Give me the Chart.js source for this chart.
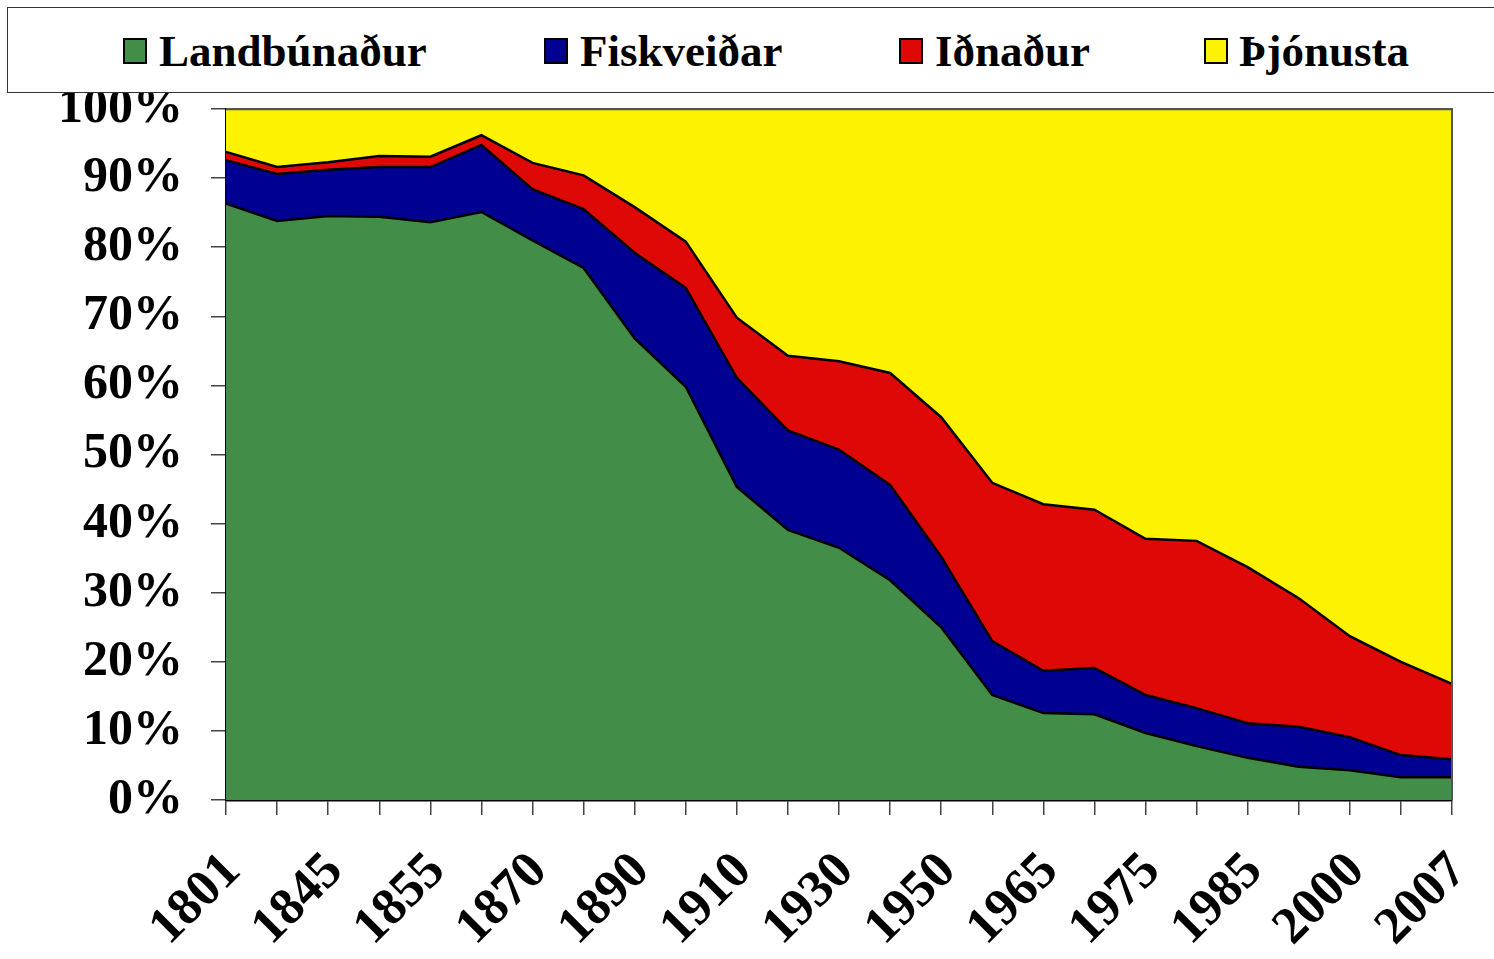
<!DOCTYPE html>
<html>
<head>
<meta charset="utf-8">
<script src="https://cdn.jsdelivr.net/npm/chart.js@4/dist/chart.umd.min.js"></script>
<style>
  html, body { margin: 0; padding: 0; background: #fff; }
  #wrap { position: relative; width: 1494px; height: 959px; overflow: hidden; }
  #chart { position: absolute; left: 0; top: 0; }
  #legend {
    position: absolute; left: 7px; top: 7px; width: 1500px; height: 86px;
    border: 1.5px solid #333; background: #fff; box-sizing: border-box;
    font: bold 45px 'Liberation Serif', 'Times New Roman', serif; color: #000;
  }
  .box { position: absolute; top: 30px; width: 20px; height: 22px; border: 2px solid #000; }
  .lbl { position: absolute; top: 18px; white-space: nowrap; line-height: 50px; }
</style>
</head>
<body>
<div id="wrap">
  <canvas id="chart" width="1494" height="959"></canvas>
  <div id="legend"></div>
</div>
<script>
// x categories (only every second one carries a label)
const years = ['1801', '', '1845', '', '1855', '', '1870', '', '1890', '', '1910', '', '1930',
               '', '1950', '', '1965', '', '1975', '', '1985', '', '2000', '', '2007'];

// share of workforce, percent
const landbunadur = [86.3, 83.8, 84.5, 84.4, 83.6, 85.1, 81.0, 77.0, 66.8, 59.8, 45.3, 39.1, 36.5,
                     31.8, 25.0, 15.2, 12.6, 12.4, 9.7, 7.8, 6.1, 4.8, 4.3, 3.3, 3.3];
const fiskveidar = [6.3, 6.8, 6.7, 7.2, 8.0, 9.7, 7.4, 8.5, 12.4, 14.3, 15.8, 14.4, 14.2,
                    13.8, 10.2, 7.8, 6.1, 6.7, 5.5, 5.5, 5.0, 5.8, 4.8, 3.2, 2.6];
const idnadur = [1.2, 1.0, 1.1, 1.6, 1.5, 1.4, 3.8, 4.9, 6.6, 6.7, 8.7, 10.8, 12.8,
                 16.2, 20.2, 22.9, 24.1, 22.9, 22.6, 24.2, 22.6, 18.6, 14.6, 13.5, 10.9];
const thjonusta = [6.2, 8.4, 7.7, 6.8, 6.9, 3.8, 7.8, 9.6, 14.2, 19.2, 30.2, 35.7, 36.5,
                   38.2, 44.6, 54.1, 57.2, 58.0, 62.2, 62.5, 66.3, 70.8, 76.3, 80.0, 83.2];

const seriesNames = ['Landbúnaður', 'Fiskveiðar', 'Iðnaður', 'Þjónusta'];
const seriesColors = ['#428D47', '#000091', '#DE0806', '#FDF200'];

const FONT = "'Liberation Serif', 'Times New Roman', serif";

// legend (HTML, fixed column positions)
const legendPos = [[115, 151], [536, 572], [891, 927], [1196, 1231]];
const legendEl = document.getElementById('legend');
seriesNames.forEach((name, i) => {
    const box = document.createElement('div');
    box.className = 'box';
    box.style.left = legendPos[i][0] + 'px';
    box.style.background = seriesColors[i];
    const lbl = document.createElement('div');
    lbl.className = 'lbl';
    lbl.style.left = legendPos[i][1] + 'px';
    lbl.textContent = name;
    legendEl.appendChild(box);
    legendEl.appendChild(lbl);
});

// plot frame (top/right edges in grey)
const framePlugin = {
    id: 'frame',
    afterDatasetsDraw(chart) {
        const { ctx, chartArea: a } = chart;
        ctx.save();
        ctx.strokeStyle = '#555';
        ctx.lineWidth = 2;
        ctx.beginPath();
        ctx.moveTo(a.left, a.top);
        ctx.lineTo(a.right, a.top);
        ctx.lineTo(a.right, a.bottom);
        ctx.stroke();
        ctx.restore();
    }
};

const allData = [landbunadur, fiskveidar, idnadur, thjonusta];

new Chart(document.getElementById('chart').getContext('2d'), {
    type: 'line',
    data: {
        labels: years,
        datasets: allData.map((d, i) => ({
            label: seriesNames[i],
            data: d,
            backgroundColor: seriesColors[i],
            borderColor: i === 3 ? '#555' : '#000',
            borderWidth: 2.5,
            fill: i === 0 ? 'origin' : '-1',
            pointRadius: 0,
            tension: 0
        }))
    },
    options: {
        responsive: false,
        animation: false,
        layout: { padding: { left: 0, top: 109, right: 42, bottom: 0 } },
        plugins: {
            legend: { display: false },
            tooltip: { enabled: false }
        },
        scales: {
            x: {
                z: 1,
                offset: false,
                grid: { drawOnChartArea: false, drawTicks: true, tickLength: 15, color: '#444', lineWidth: 1.5 },
                border: { color: '#000', width: 2.5 },
                ticks: {
                    autoSkip: false,
                    maxRotation: 45,
                    minRotation: 45,
                    padding: 26,
                    labelOffset: 7,
                    color: '#000',
                    font: { family: FONT, size: 52, weight: 'bold' }
                },
                afterFit(scale) {
                    scale.height = 159;
                    scale.paddingLeft = 0;
                    scale.paddingRight = 0;
                }
            },
            y: {
                z: 1,
                stacked: true,
                min: 0,
                max: 100,
                grid: { drawOnChartArea: false, drawTicks: true, tickLength: 15, color: '#444', lineWidth: 1.5 },
                border: { color: '#000', width: 2.5 },
                ticks: {
                    stepSize: 10,
                    padding: 28,
                    color: '#000',
                    font: { family: FONT, size: 50, weight: 'bold' },
                    callback: v => v + '%'
                },
                afterFit(scale) {
                    scale.width = 226;
                    scale.paddingTop = 0;
                    scale.paddingBottom = 0;
                }
            }
        }
    },
    plugins: [framePlugin]
});
</script>
</body>
</html>
